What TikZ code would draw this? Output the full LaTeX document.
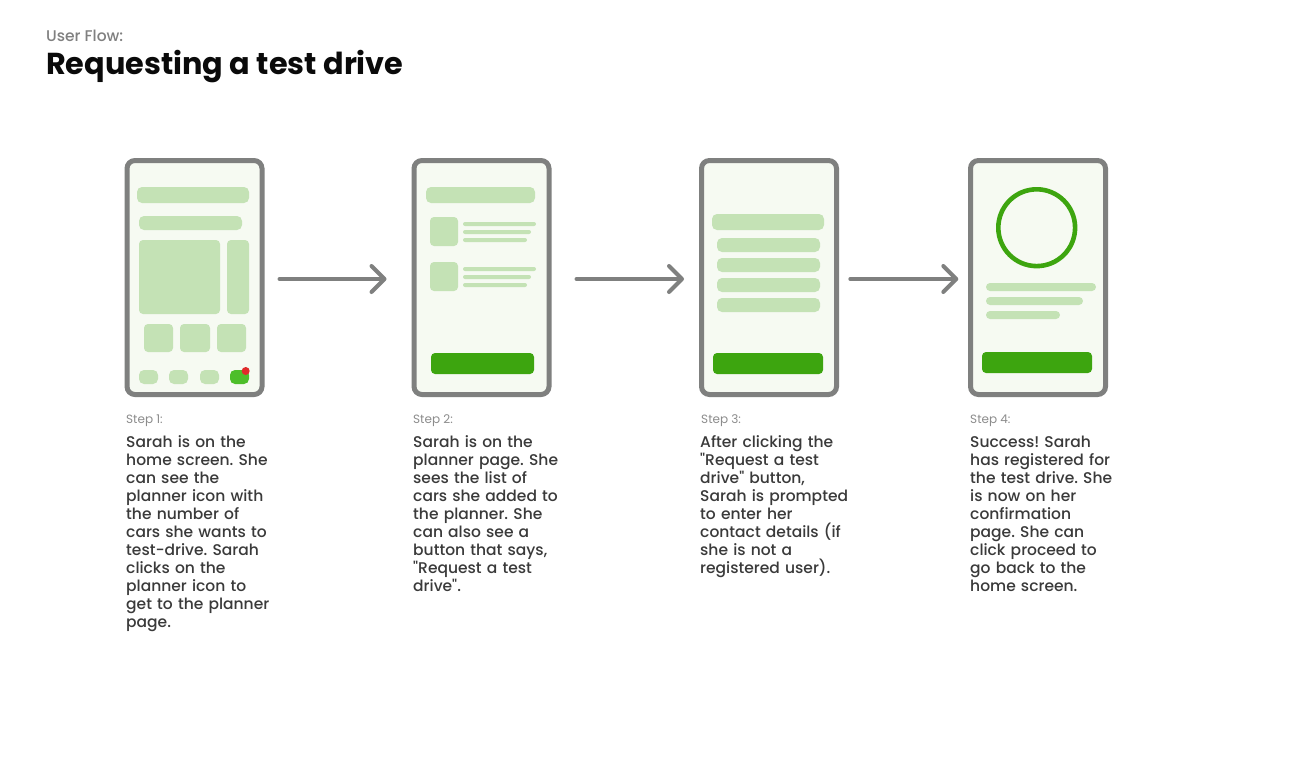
\documentclass[tikz,border=0pt]{standalone}
\usepackage{fontspec}
\setmainfont{Poppins}[Ligatures=TeXOff]
\newfontfamily\bodyfont{Poppins Medium}[Ligatures=TeXOff]
\usetikzlibrary{arrows.meta}
\definecolor{frame}{HTML}{7F807F}
\definecolor{screenbg}{HTML}{F6FAF2}
\definecolor{lite}{HTML}{C4E2B5}
\definecolor{btngreen}{HTML}{3DA50F}
\definecolor{pillgreen}{HTML}{4DBE2A}
\definecolor{dotred}{HTML}{E02A2A}
\definecolor{bodygray}{HTML}{3A3A3A}
\definecolor{labelgray}{HTML}{8C8C8C}
\definecolor{subgray}{HTML}{808080}
\definecolor{titleblack}{HTML}{0A0A0A}
\frenchspacing
\begin{document}
\begin{tikzpicture}[x=1pt,y=-1pt,
  phone/.style={draw=frame, line width=5pt, fill=screenbg, rounded corners=8pt,
    minimum width=135pt, minimum height=234pt, inner sep=0pt},
  blk/.style={fill=lite, rounded corners=4pt},
  thin/.style={fill=lite, rounded corners=2pt},
  btn/.style={fill=btngreen, rounded corners=4pt},
  flow/.style={draw=frame, line width=4pt, line cap=round,
    -{Straight Barb[length=13pt,width=26pt,round]}},
  steplabel/.style={anchor=base west, text=labelgray, inner sep=0pt,
    font=\fontsize{12}{14}\selectfont},
  stepbody/.style={anchor=base west, text=bodygray, inner sep=0pt, align=left,
    text width=175pt, font=\bodyfont\fontsize{15.5}{18}\selectfont}]
\useasboundingbox[fill=white] (0,0) rectangle (1294,782);

% heading
\node[anchor=base west, inner sep=0pt, text=subgray, font=\bodyfont\fontsize{15.5}{17}\selectfont] (sub) at (46,41) {User Flow:};
\node[anchor=base west, inner sep=0pt, text=titleblack, font=\fontsize{30.3}{34}\selectfont\bfseries] (title) at (46,74) {Requesting a test drive};

% phones
\node[phone] (p1) at (194.5,277.5) {};
\node[phone] (p2) at (481.5,277.5) {};
\node[phone] (p3) at (769,277.5) {};
\node[phone] (p4) at (1038,277.5) {};

% phone 1: home screen
\fill[blk, rounded corners=5pt] (137,187) rectangle (249,203);
\fill[blk, rounded corners=5pt] (139,216) rectangle (242,230);
\fill[blk] (139,240) rectangle (220,314);
\fill[blk] (227,240) rectangle (249,314);
\fill[blk] (144,324) rectangle (173,352);
\fill[blk] (180,324) rectangle (210,352);
\fill[blk] (217,324) rectangle (246,352);
\fill[blk, rounded corners=5pt] (139,370) rectangle (158,384);
\fill[blk, rounded corners=5pt] (169,370) rectangle (188,384);
\fill[blk, rounded corners=5pt] (200,370) rectangle (219,384);
\fill[pillgreen, rounded corners=5pt] (230,370) rectangle (249,384);
\fill[dotred] (245.7,371) circle (4);

% phone 2: planner
\fill[blk, rounded corners=5pt] (426,187) rectangle (535,203);
\fill[blk] (430,217) rectangle (458,246);
\fill[thin] (463,222) rectangle (536,226);
\fill[thin] (463,230) rectangle (531,234);
\fill[thin] (463,238) rectangle (527,242);
\fill[blk] (430,262) rectangle (458,291);
\fill[thin] (463,267) rectangle (536,271);
\fill[thin] (463,275) rectangle (531,279);
\fill[thin] (463,283) rectangle (527,287);
\fill[btn] (431,353) rectangle (534,374);

% phone 3: contact form
\fill[blk, rounded corners=5pt] (712,214) rectangle (824,230);
\fill[blk, rounded corners=5pt] (717,238) rectangle (820,252);
\fill[blk, rounded corners=5pt] (717,258) rectangle (820,272);
\fill[blk, rounded corners=5pt] (717,278) rectangle (820,292);
\fill[blk, rounded corners=5pt] (717,298) rectangle (820,312);
\fill[btn] (713,353) rectangle (823,374);

% phone 4: confirmation
\draw[btngreen, line width=4.6pt] (1036.7,227.7) circle (38.4);
\fill[blk] (986,283) rectangle (1096,291);
\fill[blk] (986,297) rectangle (1083,305);
\fill[blk] (986,311) rectangle (1060,319);
\fill[btn] (982,352) rectangle (1092,373);

% connectors
\draw[flow, shorten <=15pt, shorten >=25pt] ([yshift=-1.5pt]p1.east) -- ([yshift=-1.5pt]p2.west);
\draw[flow, shorten <=25pt, shorten >=15pt] ([yshift=-1.5pt]p2.east) -- ([yshift=-1.5pt]p3.west);
\draw[flow, shorten <=11.3pt, shorten >=9.7pt] ([yshift=-1.5pt]p3.east) -- ([yshift=-1.5pt]p4.west);

% step texts
\node[steplabel] (l1) at (126,423) {Step 1:};
\node[stepbody] (t1) at (126,447) {Sarah is on the\\home screen. She\\can see the\\planner icon with\\the number of\\cars she wants to\\test-drive. Sarah\\clicks on the\\planner icon to\\get to the planner\\page.};
\node[steplabel] (l2) at (413,423) {Step 2:};
\node[stepbody] (t2) at (413,447) {Sarah is on the\\planner page. She\\sees the list of\\cars she added to\\the planner. She\\can also see a\\button that says,\\"Request a test\\drive".};
\node[steplabel] (l3) at (701,423) {Step 3:};
\node[stepbody] (t3) at (700,447) {After clicking the\\"Request a test\\drive" button,\\Sarah is prompted\\to enter her\\contact details (if\\she is not a\\registered user).};
\node[steplabel] (l4) at (970,423) {Step 4:};
\node[stepbody] (t4) at (970,447) {Success! Sarah\\has registered for\\the test drive. She\\is now on her\\confirmation\\page. She can\\click proceed to\\go back to the\\home screen.};
\end{tikzpicture}
\end{document}
